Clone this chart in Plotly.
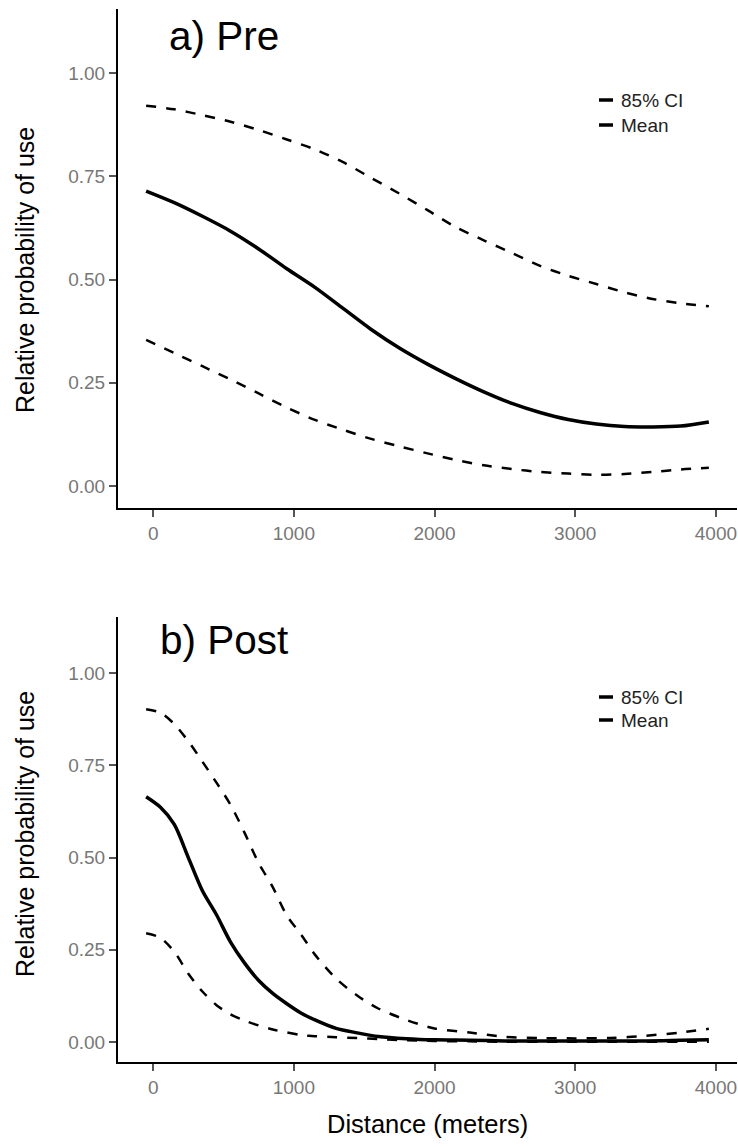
import plotly.graph_objects as go

# Distance grids (meters)
dist_pre = [-50, 150, 350, 550, 750, 950, 1150, 1350, 1550, 1750, 1950,
            2150, 2350, 2550, 2750, 2950, 3150, 3350, 3550, 3750, 3950]
dist_post = [-50, 50, 150, 250, 350, 450, 550, 650, 750, 850, 950, 1050, 1150,
             1300, 1450, 1600, 1800, 2000, 2250, 2500, 2750, 3000, 3250, 3500,
             3750, 3950]

# a) Pre period: mean and 85% CI of relative probability of use
pre_upper = [0.921, 0.912, 0.898, 0.882, 0.862, 0.839, 0.815, 0.784, 0.746, 0.708,
             0.668, 0.627, 0.595, 0.564, 0.533, 0.509, 0.489, 0.469, 0.453, 0.442, 0.435]
pre_mean = [0.714, 0.686, 0.653, 0.617, 0.574, 0.526, 0.481, 0.430, 0.379, 0.334,
            0.295, 0.260, 0.228, 0.200, 0.178, 0.161, 0.150, 0.144, 0.143, 0.145, 0.155]
pre_lower = [0.354, 0.322, 0.290, 0.258, 0.224, 0.190, 0.160, 0.136, 0.114, 0.096,
             0.079, 0.063, 0.050, 0.041, 0.034, 0.030, 0.027, 0.029, 0.034, 0.040, 0.044]

# b) Post period
post_upper = [0.902, 0.893, 0.862, 0.815, 0.760, 0.703, 0.643, 0.567, 0.485, 0.420,
              0.343, 0.292, 0.237, 0.172, 0.126, 0.091, 0.060, 0.037, 0.026, 0.014,
              0.011, 0.010, 0.011, 0.017, 0.026, 0.036]
post_mean = [0.665, 0.637, 0.590, 0.500, 0.410, 0.345, 0.271, 0.214, 0.167, 0.132,
             0.104, 0.079, 0.060, 0.037, 0.025, 0.015, 0.009, 0.006, 0.005, 0.003,
             0.003, 0.003, 0.003, 0.003, 0.005, 0.006]
post_lower = [0.295, 0.283, 0.245, 0.185, 0.137, 0.100, 0.075, 0.058, 0.045, 0.034,
              0.026, 0.019, 0.016, 0.013, 0.011, 0.008, 0.005, 0.003, 0.002, 0.001,
              0.001, 0.001, 0.001, 0.001, 0.001, 0.001]

x_ticks = [0, 1000, 2000, 3000, 4000]
y_ticks = [0.0, 0.25, 0.5, 0.75, 1.0]
panel_titles = ["a) Pre", "b) Post"]
legend_labels = ["85% CI", "Mean"]
y_title = "Relative probability of use"
x_title = "Distance (meters)"

W, H = 738, 1147
FONT = "Liberation Sans"

def px_x(p):
    return p / W

def px_y(p):
    return 1 - p / H

fig = go.Figure()

panels = [
    ("x", "y", dist_pre, pre_upper, pre_mean, pre_lower),
    ("x2", "y2", dist_post, post_upper, post_mean, post_lower),
]
for xa, ya, d, up, mn, lo in panels:
    for vals, dash, width in [(up, "10px,10px", 2.5), (lo, "10px,10px", 2.5), (mn, "solid", 3.5)]:
        fig.add_trace(go.Scatter(
            x=d, y=vals, xaxis=xa, yaxis=ya, mode="lines",
            line=dict(color="black", width=width, dash=dash, shape="spline", smoothing=0.8),
            showlegend=False, hoverinfo="skip",
        ))

x_dom = [px_x(118), px_x(737)]
axis_common = dict(
    showgrid=False, zeroline=False, showline=True, linecolor="black", linewidth=2,
    ticks="outside", ticklen=7, tickwidth=1.5, tickcolor="#555555",
    tickfont=dict(family=FONT, size=19, color="#777777"),
)

fig.update_layout(
    width=W, height=H,
    margin=dict(l=0, r=0, t=0, b=0),
    paper_bgcolor="white", plot_bgcolor="white",
    showlegend=False,
    xaxis=dict(domain=x_dom, range=[-250, 4150], tickvals=x_ticks, anchor="y", **axis_common),
    yaxis=dict(domain=[px_y(508), px_y(9)], range=[-0.0533, 1.155], tickvals=y_ticks,
               tickformat=".2f", anchor="x", **axis_common),
    xaxis2=dict(domain=x_dom, range=[-250, 4150], tickvals=x_ticks, anchor="y2", **axis_common),
    yaxis2=dict(domain=[px_y(1062), px_y(617)], range=[-0.054, 1.152], tickvals=y_ticks,
                tickformat=".2f", anchor="x2", **axis_common),
)

annotations = []
shapes = []

# Panel titles placed in data coordinates
for xr, yr, txt in [("x", "y", panel_titles[0]), ("x2", "y2", panel_titles[1])]:
    annotations.append(dict(
        x=500, y=1.09, xref=xr, yref=yr, text=txt, showarrow=False,
        xanchor="center", yanchor="middle",
        font=dict(family=FONT, size=40.5, color="black"),
    ))

# Y-axis titles
for center in [270, 834]:
    annotations.append(dict(
        x=px_x(25), y=px_y(center), xref="paper", yref="paper", text=y_title,
        textangle=-90, showarrow=False, xanchor="center", yanchor="middle",
        font=dict(family=FONT, size=25, color="black"),
    ))

# X-axis title
annotations.append(dict(
    x=px_x(427), y=px_y(1124), xref="paper", yref="paper", text=x_title,
    showarrow=False, xanchor="center", yanchor="middle",
    font=dict(family=FONT, size=25.5, color="black"),
))

# Legend keys and labels
for rows in [(100, 125), (697, 720)]:
    for label, row in zip(legend_labels, rows):
        shapes.append(dict(
            type="line", xref="paper", yref="paper",
            x0=px_x(599), x1=px_x(613), y0=px_y(row), y1=px_y(row),
            line=dict(color="black", width=3.5),
        ))
        annotations.append(dict(
            x=px_x(619), y=px_y(row), xref="paper", yref="paper", text=label,
            showarrow=False, xanchor="left", yanchor="middle",
            font=dict(family=FONT, size=19, color="#222222"),
        ))

fig.update_layout(annotations=annotations, shapes=shapes)
fig.write_html("out.html")
